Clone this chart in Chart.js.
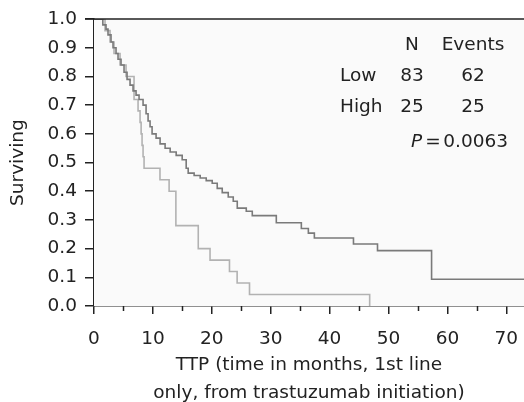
<!DOCTYPE html>
<html>
<head>
<meta charset="utf-8">
<script src="https://cdn.jsdelivr.net/npm/chart.js@4/dist/chart.umd.min.js"></script>
<style>
  html, body { margin: 0; padding: 0; background: #fff; }
  #wrap { width: 524px; height: 402px; }
</style>
</head>
<body>
<div id="wrap"><canvas id="km" width="524" height="402"></canvas></div>
<script>
// Kaplan-Meier steps (months, survival)
const lowTime = [0, 1.5, 2.04, 2.38, 2.89, 3.23, 3.74, 4.08, 4.59, 5.10, 5.61, 6.12, 6.63, 7.14, 7.65,
    8.33, 8.84, 9.18, 9.52, 9.86, 10.54, 11.22, 12.07, 12.93, 13.95, 14.97, 15.65, 15.99, 17.0, 18.03,
    19.05, 20.07, 20.92, 21.77, 22.79, 23.64, 24.32, 25.85, 26.87, 30.95, 35.2, 36.39, 37.41, 44.05,
    48.13, 57.31, 73];
const lowSurv = [1, 0.98, 0.965, 0.945, 0.92, 0.90, 0.88, 0.86, 0.84, 0.815, 0.79, 0.77, 0.75, 0.735, 0.72,
    0.70, 0.67, 0.645, 0.625, 0.60, 0.585, 0.565, 0.55, 0.537, 0.525, 0.51, 0.48, 0.463, 0.455, 0.446,
    0.437, 0.428, 0.41, 0.395, 0.38, 0.365, 0.341, 0.33, 0.315, 0.29, 0.27, 0.254, 0.237, 0.216,
    0.193, 0.093, 0.093];

const highTime = [0, 1.87, 2.72, 3.4, 4.42, 5.44, 6.8, 7.48, 7.82, 8.0, 8.16, 8.33, 8.5, 11.2, 12.75,
    13.9, 17.7, 19.7, 23.0, 24.3, 26.4, 46.8];
const highSurv = [1, 0.96, 0.92, 0.88, 0.84, 0.80, 0.72, 0.68, 0.64, 0.60, 0.56, 0.52, 0.48, 0.44, 0.40,
    0.28, 0.20, 0.16, 0.12, 0.08, 0.04, 0];

const minorTicks = [5, 15, 25, 35, 45, 55, 65];
const tableRows = [
    ['', 'N', 'Events'],
    ['Low', '83', '62'],
    ['High', '25', '25']
];
const pValue = '0.0063';

const FONT = '"DejaVu Sans", Verdana, sans-serif';
const FS = 18.5;
const INK = '#222';

const toPoints = (xs, ys) => xs.map((x, i) => ({ x: x, y: ys[i] }));

// background of the plot area, top frame line, minor x ticks, the N/Events table
const decor = {
    id: 'decor',
    beforeDatasetsDraw(chart) {
        const { ctx, chartArea: a } = chart;
        ctx.save();
        ctx.fillStyle = '#fafafa';
        ctx.fillRect(a.left, a.top, a.right - a.left, a.bottom - a.top);
        ctx.restore();
    },
    afterDraw(chart) {
        const { ctx, chartArea: a } = chart;
        const xs = chart.scales.x;
        ctx.save();
        ctx.strokeStyle = INK;
        ctx.lineWidth = 1.5;
        ctx.beginPath();
        ctx.moveTo(a.left - 9, a.top);
        ctx.lineTo(a.right, a.top);
        ctx.stroke();

        minorTicks.forEach(v => {
            const px = Math.round(xs.getPixelForValue(v)) + 0.5;
            ctx.beginPath();
            ctx.moveTo(px, a.bottom);
            ctx.lineTo(px, a.bottom + 5);
            ctx.stroke();
        });

        ctx.fillStyle = INK;
        ctx.font = FS + 'px ' + FONT;
        ctx.textBaseline = 'middle';
        const rowY = [45, 76, 107];
        tableRows.forEach((row, i) => {
            ctx.textAlign = 'left';
            ctx.fillText(row[0], 340, rowY[i]);
            ctx.textAlign = 'center';
            ctx.fillText(row[1], 412, rowY[i]);
            ctx.fillText(row[2], 473, rowY[i]);
        });

        ctx.textAlign = 'left';
        ctx.font = 'italic ' + FS + 'px ' + FONT;
        ctx.fillText('P', 411, 142);
        ctx.font = FS + 'px ' + FONT;
        ctx.textAlign = 'center';
        ctx.fillText('=', 433, 142);
        ctx.textAlign = 'right';
        ctx.fillText(pValue, 508, 142);
        ctx.restore();
    }
};

new Chart(document.getElementById('km'), {
    type: 'line',
    data: {
        datasets: [
            {
                label: 'Low',
                data: toPoints(lowTime, lowSurv),
                borderColor: '#7a7a7a',
                borderWidth: 1.6,
                stepped: 'before',
                pointRadius: 0,
                fill: false
            },
            {
                label: 'High',
                data: toPoints(highTime, highSurv),
                borderColor: '#b2b2b2',
                borderWidth: 1.6,
                stepped: 'before',
                pointRadius: 0,
                fill: false
            }
        ]
    },
    options: {
        responsive: false,
        animation: false,
        devicePixelRatio: 1,
        layout: { padding: { top: 19, right: 0, left: 0, bottom: 0 } },
        plugins: {
            legend: { display: false },
            tooltip: { enabled: false }
        },
        scales: {
            x: {
                type: 'linear',
                min: 0,
                max: 73,
                afterFit: s => {
                    s.height = 96;
                    s.paddingLeft = 0;
                    s.paddingRight = 0;
                },
                ticks: {
                    stepSize: 10,
                    includeBounds: false,
                    color: INK,
                    padding: 14,
                    maxRotation: 0,
                    font: { family: FONT, size: FS }
                },
                grid: { drawOnChartArea: false, tickLength: 8, color: INK, lineWidth: 1.5 },
                border: { color: INK, width: 1.5 },
                title: {
                    display: true,
                    text: ['TTP (time in months, 1st line', 'only, from trastuzumab initiation)'],
                    color: INK,
                    font: { family: FONT, size: FS, lineHeight: 1.5 },
                    padding: { top: 0, bottom: -5 }
                }
            },
            y: {
                min: 0,
                max: 1,
                afterFit: s => { s.width = 94; },
                ticks: {
                    stepSize: 0.1,
                    color: INK,
                    padding: 8,
                    font: { family: FONT, size: FS },
                    callback: v => v.toFixed(1)
                },
                grid: { drawOnChartArea: false, tickLength: 9, color: INK, lineWidth: 1.5 },
                border: { color: INK, width: 1.5 },
                title: {
                    display: true,
                    text: 'Surviving',
                    color: INK,
                    font: { family: FONT, size: FS },
                    padding: { top: 7, bottom: 0 }
                }
            }
        }
    },
    plugins: [decor]
});
</script>
</body>
</html>
